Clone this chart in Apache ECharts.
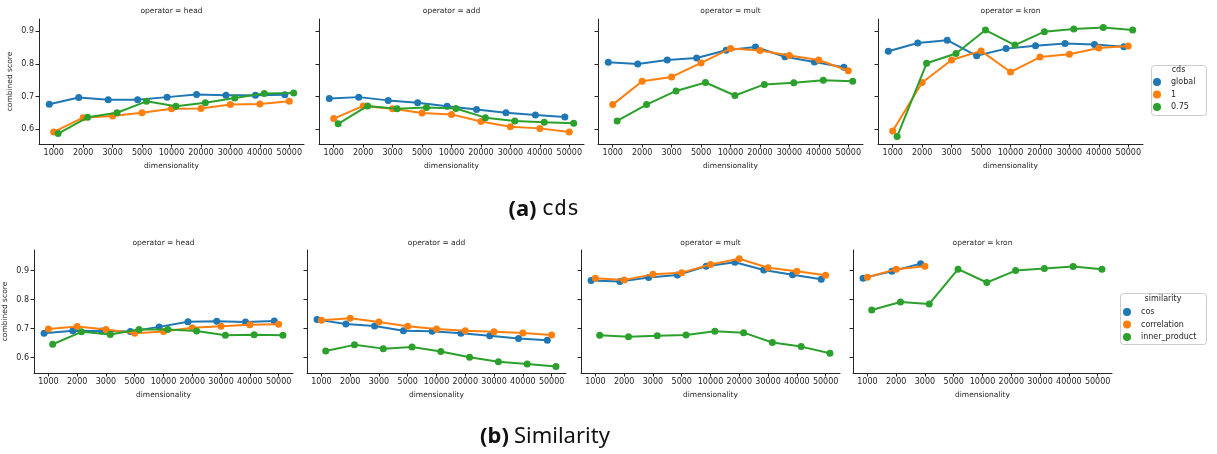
<!DOCTYPE html>
<html><head><meta charset="utf-8">
<script src="https://cdn.jsdelivr.net/npm/echarts@6/dist/echarts.min.js"></script>
<style>html,body{margin:0;padding:0;background:#fff}#c{width:1217px;height:454px}</style>
</head><body><div id="c"></div>
<script>
const categories = ['1000','2000','3000','5000','10000','20000','30000','40000','50000'];
const operators = ['head','add','mult','kron'];
const yTicks = [0.6, 0.7, 0.8, 0.9];

// (a) cds
const cdsNames = ['global','1','0.75'];
const cds_head_global = [0.676,0.697,0.690,0.690,0.698,0.706,0.704,0.704,0.705];
const cds_head_1      = [0.591,0.635,0.640,0.650,0.662,0.663,0.675,0.677,0.685];
const cds_head_075    = [0.586,0.636,0.650,0.685,0.670,0.681,0.695,0.709,0.711];
const cds_add_global  = [0.694,0.698,0.688,0.681,0.670,0.660,0.650,0.643,0.637];
const cds_add_1       = [0.632,0.671,0.662,0.649,0.645,0.623,0.607,0.602,0.591];
const cds_add_075     = [0.616,0.671,0.662,0.666,0.663,0.635,0.625,0.621,0.618];
const cds_mult_global = [0.805,0.800,0.812,0.818,0.842,0.852,0.822,0.806,0.790];
const cds_mult_1      = [0.675,0.747,0.760,0.803,0.847,0.841,0.826,0.812,0.779];
const cds_mult_075    = [0.625,0.675,0.717,0.743,0.703,0.737,0.742,0.750,0.747];
const cds_kron_global = [0.839,0.864,0.873,0.825,0.847,0.856,0.863,0.860,0.853];
const cds_kron_1      = [0.594,0.743,0.812,0.840,0.775,0.821,0.830,0.849,0.855];
const cds_kron_075    = [0.577,0.802,0.832,0.904,0.858,0.899,0.907,0.912,0.904];

// (b) similarity
const simNames = ['cos','correlation','inner_product'];
const sim_head_cos   = [0.684,0.693,0.692,0.690,0.706,0.724,0.725,0.723,0.726];
const sim_head_corr  = [0.699,0.707,0.697,0.684,0.690,0.703,0.708,0.713,0.715];
const sim_head_inner = [0.646,0.689,0.680,0.697,0.697,0.692,0.677,0.679,0.677];
const sim_add_cos    = [0.731,0.716,0.709,0.693,0.691,0.684,0.675,0.666,0.660];
const sim_add_corr   = [0.729,0.736,0.723,0.708,0.699,0.693,0.689,0.685,0.678];
const sim_add_inner  = [0.623,0.644,0.631,0.637,0.621,0.601,0.586,0.578,0.569];
const sim_mult_cos   = [0.866,0.862,0.876,0.885,0.915,0.929,0.902,0.886,0.870];
const sim_mult_corr  = [0.874,0.868,0.887,0.893,0.921,0.941,0.910,0.898,0.884];
const sim_mult_inner = [0.677,0.672,0.675,0.678,0.691,0.686,0.652,0.638,0.615];
const sim_kron_cos   = [0.874,0.898,0.924,null,null,null,null,null,null];
const sim_kron_corr  = [0.877,0.905,0.915,null,null,null,null,null,null];
const sim_kron_inner = [0.764,0.792,0.785,0.905,0.859,0.900,0.907,0.914,0.905];

const cdsData = [
  [cds_head_global, cds_head_1, cds_head_075],
  [cds_add_global, cds_add_1, cds_add_075],
  [cds_mult_global, cds_mult_1, cds_mult_075],
  [cds_kron_global, cds_kron_1, cds_kron_075]
];
const simData = [
  [sim_head_cos, sim_head_corr, sim_head_inner],
  [sim_add_cos, sim_add_corr, sim_add_inner],
  [sim_mult_cos, sim_mult_corr, sim_mult_inner],
  [sim_kron_cos, sim_kron_corr, sim_kron_inner]
];

const colors = ['#1f77b4','#ff7f0e','#2ca02c'];
const dodge = [-0.15, 0, 0.15];
const ink = '#262626';
const FONT = 'DejaVu Sans';

const rows = [
  {lefts:[39,319,598,878], width:265, top:19, height:125, ymin:0.554, ymax:0.938, names:cdsNames, data:cdsData, titleTop:7},
  {lefts:[34,307,581,853], width:259, top:250, height:123, ymin:0.547, ymax:0.971, names:simNames, data:simData, titleTop:239}
];

const grid = [], xAxis = [], yAxis = [], series = [], title = [];
rows.forEach((row, r) => {
  operators.forEach((op, p) => {
    const gi = grid.length;
    grid.push({left:row.lefts[p], top:row.top, width:row.width, height:row.height, containLabel:false});
    title.push({text:'operator = ' + op, left:row.lefts[p] + row.width/2, top:row.titleTop, textAlign:'center', padding:0,
      textStyle:{fontFamily:FONT, fontSize:7.5, fontWeight:'normal', color:ink}});
    xAxis.push({type:'value', gridIndex:gi, min:-0.5, max:8.5,
      name:'dimensionality', nameLocation:'middle', nameGap:18,
      nameTextStyle:{fontFamily:FONT, fontSize:7.5, color:ink},
      splitLine:{show:false},
      axisLine:{show:true, onZero:false, lineStyle:{color:ink, width:1}},
      axisTick:{show:true, length:3.5, lineStyle:{color:ink}, customValues:[0,1,2,3,4,5,6,7,8]},
      axisLabel:{fontFamily:FONT, fontSize:8, color:ink, margin:5, customValues:[0,1,2,3,4,5,6,7,8],
        formatter: v => categories[Math.round(v)]}
    });
    yAxis.push({type:'value', gridIndex:gi, min:row.ymin, max:row.ymax,
      name: p === 0 ? 'combined score' : '', nameLocation:'middle', nameGap:25,
      nameTextStyle:{fontFamily:FONT, fontSize:7.5, color:ink},
      splitLine:{show:false},
      axisLine:{show:true, onZero:false, lineStyle:{color:ink, width:1}},
      axisTick:{show:true, length:3.5, lineStyle:{color:ink}, customValues:yTicks},
      axisLabel:{show: p === 0, fontFamily:FONT, fontSize:8, color:ink, margin:5, customValues:yTicks,
        formatter: v => v.toFixed(1)}
    });
    row.data[p].forEach((vals, h) => {
      const pts = [];
      vals.forEach((v, i) => { if (v !== null) pts.push([i + dodge[h], v]); });
      series.push({type:'line', name:row.names[h], xAxisIndex:gi, yAxisIndex:gi, data:pts,
        symbol:'circle', symbolSize:7, showSymbol:true, animation:false, silent:true,
        lineStyle:{color:colors[h], width:2}, itemStyle:{color:colors[h]}, z: 2 + h});
    });
  });
});

title.push({text:'cds', left:1178.5, top:66, textAlign:'center', padding:0,
  textStyle:{fontFamily:FONT, fontSize:8, fontWeight:'normal', color:ink}});
title.push({text:'similarity', left:1163, top:295, textAlign:'center', padding:0,
  textStyle:{fontFamily:FONT, fontSize:8, fontWeight:'normal', color:ink}});
title.push({text:'{a|(a)} {b|cds}', left:544, top:199, textAlign:'center', padding:0,
  textStyle:{fontWeight:'normal', rich:{a:{fontFamily:'Noto Sans', fontWeight:'bold', fontSize:22, color:'#111'},
                   b:{fontFamily:'DejaVu Sans Mono', fontWeight:'normal', fontSize:21, color:'#111'}}}});
title.push({text:'{a|(b)} {b|Similarity}', left:545, top:426, textAlign:'center', padding:0,
  textStyle:{fontWeight:'normal', rich:{a:{fontFamily:'Noto Sans', fontWeight:'bold', fontSize:22, color:'#111'},
                   b:{fontFamily:'Noto Sans', fontWeight:'normal', fontSize:22, color:'#111'}}}});

const legendCommon = {orient:'vertical', icon:'circle', itemWidth:18, itemHeight:8, itemGap:4.5,
  textStyle:{fontFamily:FONT, fontSize:8, color:ink, padding:[0,0,0,0]}, selectedMode:false, padding:0};

const option = {
  backgroundColor:'#fff',
  animation:false,
  title: title,
  grid: grid, xAxis: xAxis, yAxis: yAxis, series: series,
  legend: [
    Object.assign({}, legendCommon, {left:1153, top:78, data:cdsNames.map(n=>({name:n, itemStyle:{color:colors[cdsNames.indexOf(n)]}}))}),
    Object.assign({}, legendCommon, {left:1123, top:308, data:simNames.map(n=>({name:n, itemStyle:{color:colors[simNames.indexOf(n)]}}))})
  ],
  graphic: [
    {type:'rect', left:1151, top:65, shape:{width:55, height:50, r:3}, style:{fill:'#fff', stroke:'#cccccc', lineWidth:1}, z:-1},
    {type:'rect', left:1120, top:293, shape:{width:86, height:51, r:3}, style:{fill:'#fff', stroke:'#cccccc', lineWidth:1}, z:-1}
  ]
};
const chart = echarts.init(document.getElementById('c'), null, {renderer:'canvas'});
chart.setOption(option);
</script></body></html>
